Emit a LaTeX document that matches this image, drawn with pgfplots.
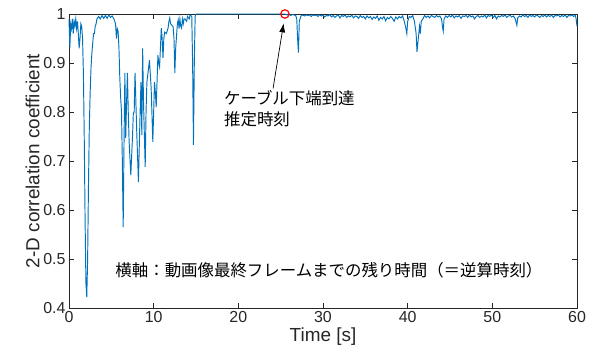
\documentclass[border=0pt]{standalone}
\usepackage{fontspec}
\setmainfont{Liberation Sans}
\newfontfamily\jp{Noto Sans CJK JP}
\usepackage{pgfplots}
\pgfplotsset{compat=1.18}
\usetikzlibrary{calc,arrows.meta}
\definecolor{mblue}{RGB}{0,114,189}
\definecolor{axgray}{RGB}{38,38,38}
\begin{document}
\begin{tikzpicture}
\begin{axis}[
  scale only axis, width=508bp, height=294bp,
  xmin=0, xmax=60, ymin=0.4, ymax=1,
  xtick={0,10,...,60}, ytick={0.4,0.5,...,1.0},
  yticklabels={0.4,0.5,0.6,0.7,0.8,0.9,1},
  tick align=inside, major tick length=5bp,
  axis line style={axgray, line width=0.8bp},
  every tick/.style={axgray, line width=0.8bp},
  tick label style={font=\fontsize{16}{16}\selectfont, text=axgray},
  /pgf/number format/assume math mode=true,
  xlabel={Time [s]}, ylabel={2-D correlation coefficient},
  label style={font=\fontsize{19}{19}\selectfont, text=axgray},
  xlabel style={yshift=2bp},
  ylabel style={yshift=-3bp},
  clip=false,
]
\addplot[color=mblue, line width=0.95bp] table {
0.0 0.99
0.1 0.93
0.2 0.98
0.3 0.97
0.4 0.99
0.5 0.96
0.6 0.985
0.7 0.975
0.8 0.99
0.9 0.97
1.0 0.985
1.1 0.96
1.2 0.93
1.3 0.95
1.4 0.98
1.5 0.975
1.6 0.95
1.7 0.88
1.8 0.75
1.9 0.58
2.0 0.45
2.1 0.422
2.2 0.5
2.3 0.65
2.4 0.77
2.5 0.84
2.6 0.89
2.7 0.92
2.8 0.94
2.9 0.96
3.0 0.96
3.1 0.975
3.2 0.98
3.3 0.99
3.5 0.995
3.7 0.99
3.9 0.997
4.1 0.991
4.3 0.997
4.5 0.991
4.7 0.998
4.9 0.993
5.1 0.996
5.3 0.99
5.5 0.98
5.6 0.95
5.7 0.97
5.8 0.965
5.9 0.93
6.0 0.87
6.1 0.83
6.2 0.8
6.3 0.7
6.4 0.565
6.5 0.74
6.6 0.88
6.7 0.747
6.8 0.82
6.9 0.88
7.0 0.8
7.1 0.74
7.3 0.671
7.5 0.75
7.6 0.798
7.7 0.80
7.8 0.88
8.0 0.76
8.2 0.657
8.4 0.8
8.5 0.861
8.6 0.753
8.7 0.93
8.8 0.82
9.0 0.688
9.1 0.8
9.2 0.861
9.4 0.89
9.5 0.906
9.7 0.85
9.9 0.739
10.0 0.8
10.1 0.861
10.2 0.84
10.3 0.81
10.5 0.916
10.6 0.9
10.7 0.892
10.9 0.971
11.0 0.95
11.1 0.91
11.2 0.95
11.3 0.963
11.5 0.96
11.7 0.971
11.8 0.985
11.9 0.992
12.0 0.98
12.1 0.978
12.3 0.974
12.4 0.95
12.5 0.88
12.6 0.93
12.8 0.98
12.9 0.988
13.0 0.97
13.1 0.99
13.2 0.975
13.3 0.971
13.4 0.99
13.5 0.98
13.6 0.99
13.7 0.99
13.9 0.985
14.0 0.995
14.2 0.99
14.3 0.998
14.5 0.995
14.6 0.9
14.7 0.733
14.8 0.9
14.9 0.995
15.0 1.0
20.0 1.0
25.5 1.0
25.6 0.999
25.8 0.998
26.0 0.999
26.2 0.997
26.4 0.999
26.6 0.998
26.8 0.996
26.9 0.99
27.0 0.95
27.1 0.921
27.2 0.985
27.4 0.996
27.6 0.998
27.8 0.996
28.0 0.998
28.2 0.997
28.4 0.998
28.6 0.995
28.8 0.998
29.0 0.997
29.2 0.998
29.4 0.995
29.6 0.998
29.8 0.996
30.0 0.998
30.2 0.994
30.4 0.997
30.6 0.996
30.8 0.999
31.0 0.994
31.2 0.997
31.4 0.993
31.6 0.996
31.8 0.998
32.0 0.992
32.2 0.997
32.4 0.995
32.6 0.998
32.8 0.993
33.0 0.996
33.2 0.994
33.4 0.998
33.6 0.992
33.8 0.996
34.0 0.995
34.2 0.991
34.4 0.997
34.6 0.993
34.8 0.995
35.0 0.990
35.2 0.996
35.4 0.992
35.6 0.995
35.8 0.989
36.0 0.994
36.2 0.991
36.4 0.996
36.6 0.987
36.8 0.993
37.0 0.99
37.2 0.995
37.4 0.986
37.6 0.993
37.8 0.99
38.0 0.995
38.2 0.991
38.4 0.985
38.6 0.994
38.8 0.99
39.0 0.995
39.2 0.992
39.4 0.996
39.6 0.985
39.8 0.97
39.9 0.96
40.0 0.985
40.2 0.995
40.4 0.993
40.6 0.997
40.8 0.985
41.0 0.96
41.1 0.923
41.2 0.94
41.4 0.975
41.5 0.96
41.6 0.985
41.8 0.99
42.0 0.997
42.2 0.993
42.4 0.996
42.6 0.992
42.8 0.997
43.0 0.995
43.2 0.993
43.4 0.997
43.6 0.994
43.8 0.996
44.0 0.99
44.1 0.975
44.2 0.965
44.3 0.99
44.5 0.996
44.7 0.993
44.9 0.997
45.1 0.994
45.3 0.998
45.5 0.992
45.7 0.996
45.9 0.994
46.1 0.997
46.3 0.991
46.5 0.996
46.7 0.995
46.9 0.997
47.1 0.993
47.3 0.998
47.5 0.994
47.7 0.996
47.9 0.99
48.1 0.995
48.3 0.997
48.5 0.993
48.7 0.996
48.9 0.994
49.1 0.998
49.3 0.992
49.5 0.997
49.7 0.995
49.9 0.998
50.1 0.993
50.3 0.997
50.5 0.99
50.7 0.996
50.9 0.994
51.1 0.997
51.3 0.995
51.5 0.998
51.7 0.993
51.9 0.996
52.1 0.997
52.3 0.994
52.5 0.996
52.7 0.99
52.9 0.977
53.0 0.992
53.2 0.996
53.4 0.994
53.6 0.998
53.8 0.995
54.0 0.997
54.2 0.993
54.4 0.998
54.6 0.995
54.8 0.997
55.0 0.994
55.2 0.998
55.4 0.996
55.6 0.993
55.8 0.997
56.0 0.995
56.2 0.998
56.4 0.994
56.6 0.997
56.8 0.995
57.0 0.998
57.2 0.993
57.4 0.997
57.6 0.996
57.8 0.998
58.0 0.994
58.2 0.997
58.4 0.995
58.6 0.998
58.8 0.993
59.0 0.997
59.2 0.996
59.4 0.998
59.6 0.995
59.8 0.997
59.9 0.99
60.0 0.975
};
\addplot[only marks, mark=o, mark size=4.2bp, red, line width=1.2bp, mark options={fill=white}] coordinates {(25.5,1.0)};
\draw[-{Latex[length=9bp,width=6bp]}, line width=0.7bp, black] (axis cs:24.1,0.848) -- (axis cs:25.35,0.981);
\node[anchor=north west, align=left, inner sep=0pt, font=\jp\fontsize{16.5}{21}\selectfont, text=black]
  at (axis cs:18.3,0.845) {ケーブル下端到達\\推定時刻};
\node[anchor=center, inner sep=0pt, font=\jp\fontsize{16.5}{20}\selectfont, text=black]
  at (axis cs:30.7,0.478) {横軸：動画像最終フレームまでの残り時間（＝逆算時刻）};
\end{axis}
\pgfresetboundingbox
\path ($(current axis.south west)+(-69bp,-55bp)$) rectangle ($(current axis.north east)+(23bp,14bp)$);
\end{tikzpicture}
\end{document}
